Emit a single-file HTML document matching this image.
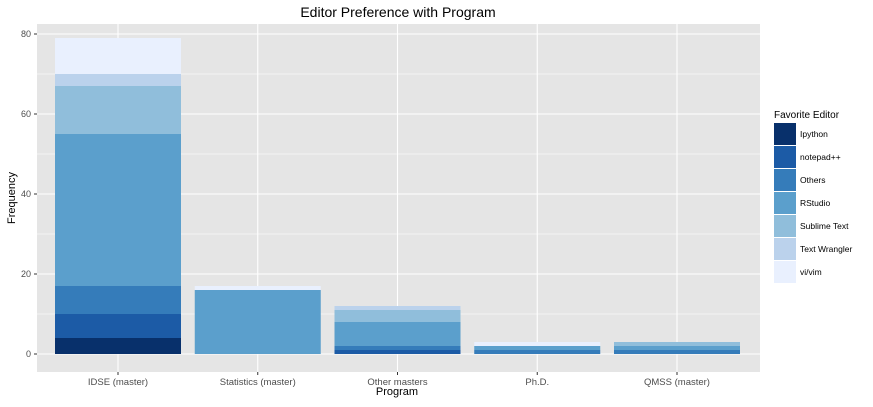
<!DOCTYPE html>
<html><head><meta charset="utf-8"><style>
body{margin:0;background:#fff;font-family:"Liberation Sans",sans-serif}
text{font-family:"Liberation Sans",sans-serif}
</style></head><body>
<svg width="873" height="402">
<text x="398" y="17" text-anchor="middle" font-size="14">Editor Preference with Program</text>
<rect x="37" y="24" width="723" height="348" fill="#e5e5e5"/>
<g id="grid"></g><g id="bars"></g><g id="axes"></g><g id="legend"></g>
<text x="397" y="395" text-anchor="middle" font-size="11">Program</text>
<text transform="translate(15,198) rotate(-90)" text-anchor="middle" font-size="11">Frequency</text>
</svg>
<script>
const categories=["IDSE (master)","Statistics (master)","Other masters","Ph.D.","QMSS (master)"];
const editors=["Ipython","notepad++","Others","RStudio","Sublime Text","Text Wrangler","vi/vim"];
const colors=["#08306b","#1c5ba6","#357cba","#5b9fcc","#90bedb","#bbd2ec","#e9f0fe"];
const ipython=[4,0,0,0,0];
const notepad=[6,0,1,0,0];
const others=[7,0,1,1,1];
const rstudio=[38,16,6,1,1];
const sublime=[12,0,3,0,1];
const wrangler=[3,0,1,0,0];
const vim=[9,1,0,1,0];
const yTicks=[0,20,40,60,80];
const series=[ipython,notepad,others,rstudio,sublime,wrangler,vim];
const NS="http://www.w3.org/2000/svg";
const px0=37,px1=760,y0=354,yScale=4;
const band=139.75;
function xc(i){return 118+band*i;}
function y(v){return y0-v*yScale;}
function mk(tag,attrs,parent){const e=document.createElementNS(NS,tag);for(const k in attrs)e.setAttribute(k,attrs[k]);document.getElementById(parent).appendChild(e);return e;}
for(let v=-10;v<=90;v+=10){const yy=y(v);if(yy<24||yy>372)continue;const g=mk('line',{x1:px0,x2:px1,y1:yy,y2:yy,stroke:'#fff','stroke-width':v%20===0?1.1:0.5},'grid');

}
categories.forEach((c,i)=>{const g=mk('line',{x1:xc(i),x2:xc(i),y1:24,y2:372,stroke:'#fff','stroke-width':1.1},'grid');


const t=mk('text',{x:xc(i),y:385,'text-anchor':'middle','font-size':9.5,fill:'#4d4d4d'},'axes');t.textContent=c;


mk('line',{x1:xc(i),x2:xc(i),y1:372,y2:375,stroke:'#333'},'axes');
let cum=0;const w=126;
series.forEach((s,k)=>{const v=s[i];if(v>0){const r=mk('rect',{x:xc(i)-w/2,y:y(cum+v),width:w,height:v*yScale,fill:colors[k]},'bars');

}cum+=v;});});
yTicks.forEach(v=>{const t=mk('text',{x:31,y:y(v)+3,'text-anchor':'end','font-size':9,fill:'#4d4d4d'},'axes');t.textContent=v;


mk('line',{x1:34,x2:37,y1:y(v),y2:y(v),stroke:'#333'},'axes');});
const lt=mk('text',{x:774,y:118,'font-size':10},'legend');lt.textContent="Favorite Editor";


editors.forEach((e,k)=>{const yy=123+k*23;const r=mk('rect',{x:774,y:yy,width:22,height:22,fill:colors[k]},'legend');


const t=mk('text',{x:800,y:yy+14,'font-size':8.5},'legend');t.textContent=e;

});
</script>
</body></html>
